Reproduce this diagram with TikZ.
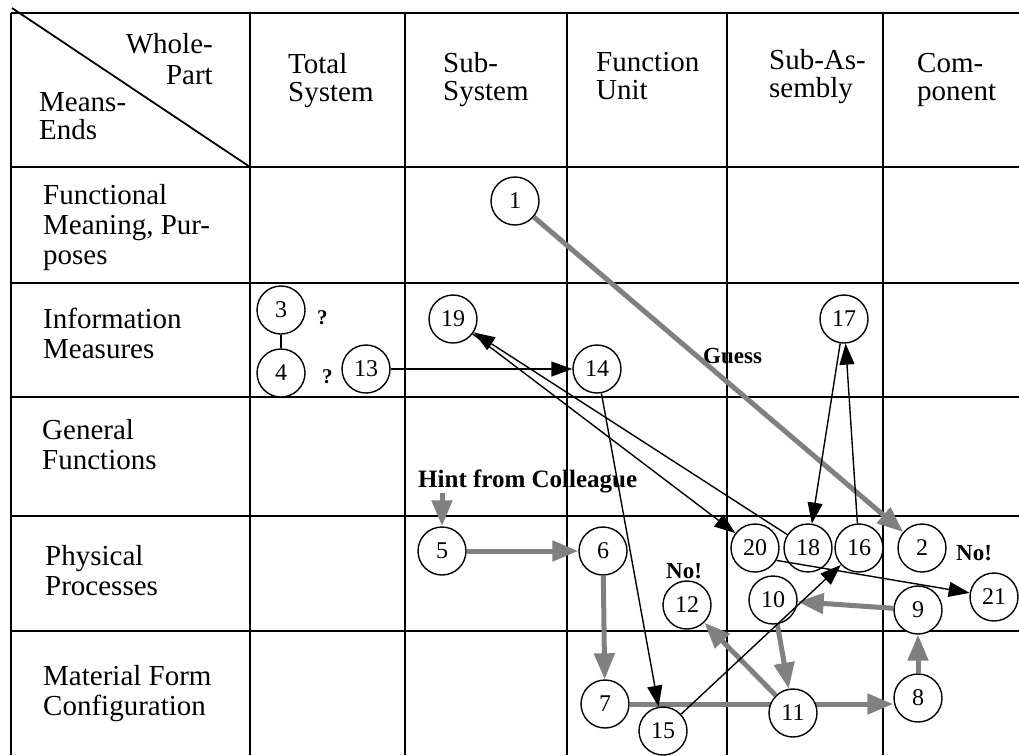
\documentclass[tikz,border=0pt]{standalone}
\usepackage{fontspec}
\setmainfont{Liberation Serif}
\usetikzlibrary{arrows.meta}
\definecolor{arrowgray}{RGB}{128,128,128}
\pgfdeclarelayer{tablelayer}
\pgfdeclarelayer{under}
\pgfsetlayers{tablelayer,under,main}
\begin{document}
\begin{tikzpicture}[x=1pt,y=-1pt,
  grid/.style={line width=1.8pt},
  circ/.style={circle,draw,line width=1.4pt,minimum size=48pt,inner sep=0pt,fill=white,font=\fontsize{24}{24}\selectfont},
  lbl/.style={inner sep=0pt,align=left,anchor=north west,font=\fontsize{29}{30}\selectfont},
  hlbl/.style={lbl,font=\fontsize{29}{28}\selectfont},
  boldlbl/.style={inner sep=0pt,anchor=base west,font=\fontsize{25}{25}\selectfont\bfseries},
  qlbl/.style={inner sep=0pt,anchor=base west,font=\fontsize{21}{21}\selectfont\bfseries},
  plain/.style={line width=1.4pt},
  blk/.style={line width=1.4pt,-{Triangle[length=21pt,width=15pt]}},
  gry/.style={draw=arrowgray,line width=5pt,-{Triangle[length=26pt,width=20pt]}}]
\useasboundingbox (0,0) rectangle (1019,755);

\begin{pgfonlayer}{tablelayer}
  \foreach \yy in {13,167,283,397,516,631} \draw[grid] (11,\yy) -- (1019,\yy);
  \foreach \xx in {11,250,405,567,727,883} \draw[grid] (\xx,13) -- (\xx,755);
  \draw[grid] (12,8) -- (250,167);
\end{pgfonlayer}

% header
\node[lbl,align=right,anchor=north east,font=\fontsize{29}{31}\selectfont] (whole) at (213,33) {Whole-\\Part};
\node[hlbl] (means) at (39,92) {Means-\\Ends};
\node[hlbl] (total) at (288,53) {Total\\System};
\node[hlbl] (subsys) at (443,52) {Sub-\\System};
\node[hlbl] (fu) at (596,52) {Function\\Unit};
\node[hlbl] (subas) at (769,49) {Sub-As-\\sembly};
\node[hlbl] (comp) at (917,53) {Com-\\ponent};

% row labels
\node[lbl] (r1) at (43,184) {Functional\\Meaning, Pur-\\poses};
\node[lbl] (r2) at (43,308) {Information\\Measures};
\node[lbl] (r3) at (42,419) {General\\Functions};
\node[lbl] (r4) at (45,545) {Physical\\Processes};
\node[lbl] (r5) at (43,665) {Material Form\\Configuration};

% circles
\node[circ] (n1) at (515,201) {1};
\node[circ] (n2) at (922,548) {2};
\node[circ] (n3) at (281,310) {3};
\node[circ] (n4) at (281,373) {4};
\node[circ] (n5) at (442,551) {5};
\node[circ] (n6) at (603,551) {6};
\node[circ] (n7) at (605,704) {7};
\node[circ] (n8) at (918,698) {8};
\node[circ] (n9) at (918,610) {9};
\node[circ] (n10) at (773,600) {10};
\node[circ] (n11) at (793,713) {11};
\node[circ] (n12) at (687,605) {12};
\node[circ] (n13) at (366,369) {13};
\node[circ] (n14) at (597,369) {14};
\node[circ] (n15) at (663,731) {15};
\node[circ] (n16) at (859,548) {16};
\node[circ] (n17) at (844,319) {17};
\node[circ] (n18) at (808,548) {18};
\node[circ] (n19) at (453,319) {19};
\node[circ] (n20) at (755,548) {20};
\node[circ] (n21) at (994,597) {21};

% annotations
\node[qlbl] (q3) at (317,324) {?};
\node[qlbl] (q4) at (322,383) {?};
\node[boldlbl] (hint) at (418,487) {Hint from Colleague};
\node[boldlbl,font=\fontsize{23}{23}\selectfont\bfseries] (guess) at (703,363) {Guess};
\node[boldlbl,font=\fontsize{23}{23}\selectfont\bfseries] (no2) at (956,560) {No!};
\node[boldlbl,font=\fontsize{23}{23}\selectfont\bfseries] (no12) at (666,578) {No!};

% grey arrows
\begin{pgfonlayer}{under}
  \draw[gry] (n7.east) -- (n7.east -| n8.west);
\end{pgfonlayer}
\draw[gry] (n1) -- (n2);
\draw[gry] (n5.north |- hint.south) -- (n5);
\draw[gry] (n5) -- (n6);
\draw[gry] (n6) -- (n7);
\draw[gry] (n11) -- (n12);
\draw[gry] (n10) -- (n11);
\draw[gry] (n9) -- (n10);
\draw[gry] (n8) -- (n9);

% black connectors
\draw[plain] (n3) -- (n4);
\draw[blk] (n13) -- (n14);
\draw[blk] (n19) -- (n20);
\draw[blk] (n18) -- (n19);
\draw[blk] (n14) -- (n15);
\draw[blk] (n17) -- (n18);
\draw[blk] (n16) -- (n17);
\draw[blk] (n15) -- (n16);
\draw[blk] (n20.-30) -- (n21);
\end{tikzpicture}
\end{document}
